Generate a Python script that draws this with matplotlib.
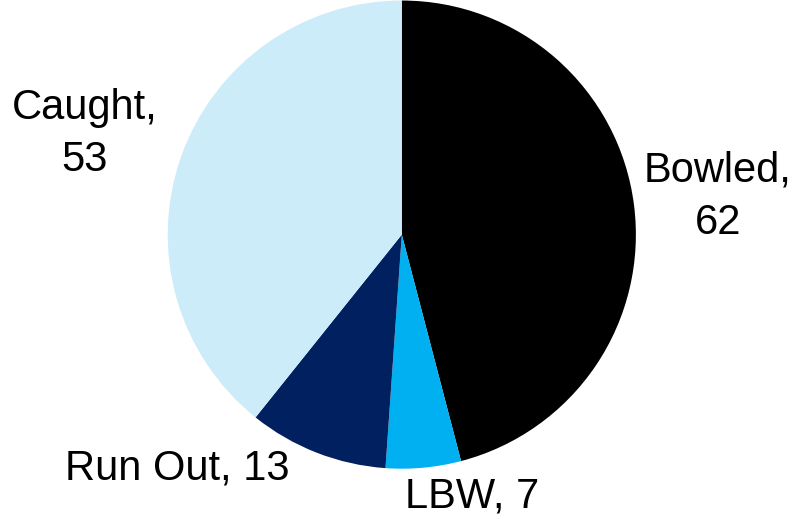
import matplotlib
matplotlib.use("Agg")
import matplotlib.pyplot as plt

categories = ["Bowled", "LBW", "Run Out", "Caught"]
values = [62, 7, 13, 53]
colors = ["#000000", "#00B0F0", "#002060", "#CCECFA"]

# label placement in pie units (radius = 1)
label_pos = {
    "Bowled": (1.35, 0.16, "{0},\n{1}"),
    "LBW": (0.30, -1.12, "{0}, {1}"),
    "Run Out": (-0.96, -1.0, "{0}, {1}"),
    "Caught": (-1.355, 0.43, "{0},\n{1}"),
}

fig = plt.figure(figsize=(8.02, 5.29), dpi=100)
ax = fig.add_axes([0.209, 0.114, 0.584, 0.885])

ax.pie(values, colors=colors, startangle=90, counterclock=False,
       radius=1.0, wedgeprops={"linewidth": 0})

for name, val in zip(categories, values):
    x, y, fmt = label_pos[name]
    ax.text(x, y, fmt.format(name, val), ha="center", va="center",
            multialignment="center", fontsize=30, family="Liberation Sans",
            linespacing=1.4, clip_on=False)

ax.set_xlim(-1, 1)
ax.set_ylim(-1, 1)
ax.set_aspect("equal")
ax.axis("off")

fig.savefig("out.png", dpi=100)
